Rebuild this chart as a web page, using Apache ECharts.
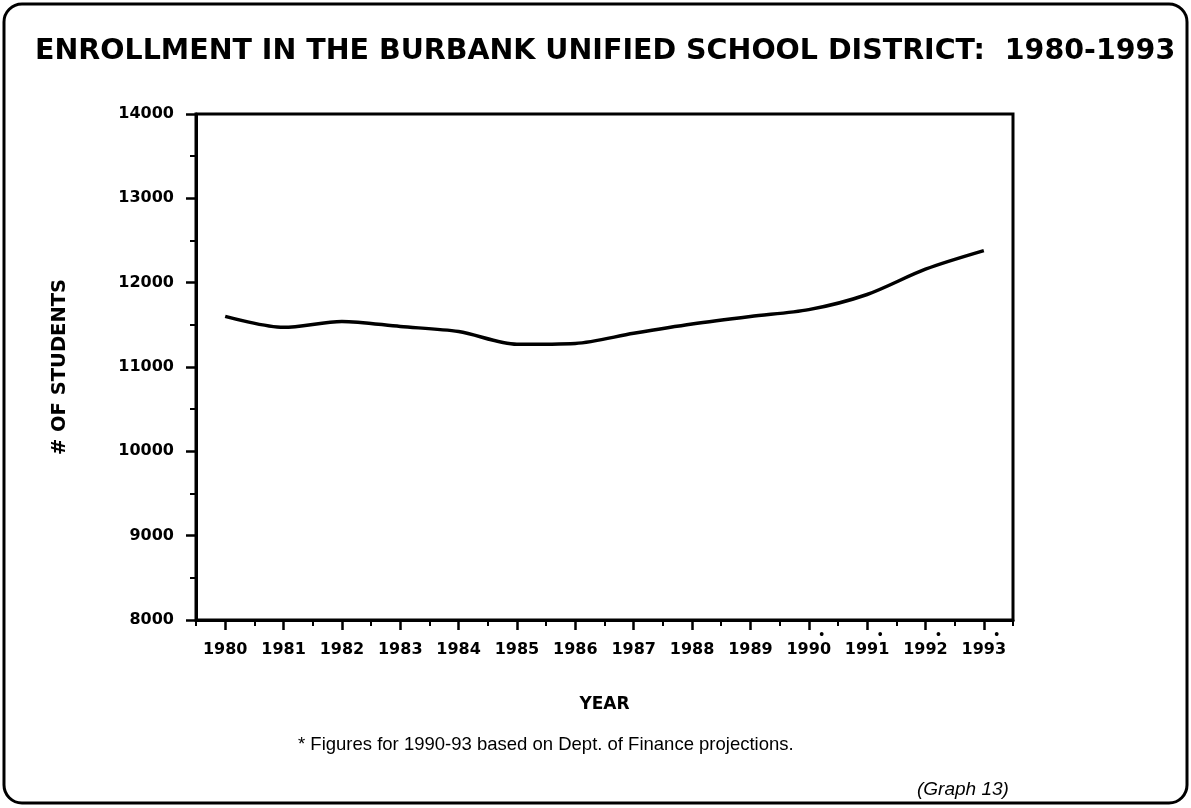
<!DOCTYPE html>
<html>
<head>
<meta charset="utf-8">
<title>Burbank enrollment</title>
<script src="https://cdn.jsdelivr.net/npm/echarts@6/dist/echarts.min.js"></script>
<style>
  html, body { margin: 0; padding: 0; background: #fff; }
  #chart { width: 1191px; height: 808px; }
</style>
</head>
<body>
<div id="chart"></div>
<script>
// 年份（横轴）
var years = ['1980', '1981', '1982', '1983', '1984', '1985', '1986',
             '1987', '1988', '1989', '1990', '1991', '1992', '1993'];
// 学生人数
var students = [11600, 11470, 11540, 11480, 11420, 11270, 11280,
                11400, 11510, 11600, 11680, 11860, 12160, 12380];
// 预测年份（标签上带小圆点）
var projected = ['1990', '1991', '1992', '1993'];
// 纵轴刻度
var yMin = 8000, yMax = 14000, yStep = 1000;

var titleText = 'ENROLLMENT IN THE BURBANK UNIFIED SCHOOL DISTRICT:  1980-1993';
var noteText = '* Figures for 1990-93 based on Dept. of Finance projections.';
var graphText = '(Graph 13)';

var font = '"Liberation Sans", Arial, sans-serif';
var boldFont = '"DejaVu Sans", "Liberation Sans", sans-serif';
// 两个grid位置相同：一个画曲线，一个只画半格小刻度
var plotBox = { left: 196, right: 178, top: 114, bottom: 188 };

var myChart = echarts.init(document.getElementById('chart'));

var option = {
    backgroundColor: '#fff',
    animation: false,
    title: {
        text: titleText,
        left: 30,
        top: 32,
        textStyle: { fontFamily: boldFont, fontSize: 28.5, fontWeight: 'bold', color: '#000' }
    },
    grid: [
        {
            left: plotBox.left, right: plotBox.right, top: plotBox.top, bottom: plotBox.bottom,
            show: true,
            borderColor: '#000',
            borderWidth: 3
        },
        {
            left: plotBox.left, right: plotBox.right, top: plotBox.top, bottom: plotBox.bottom,
            show: false
        }
    ],
    xAxis: [
        {
            type: 'category',
            gridIndex: 0,
            data: years,
            boundaryGap: true,
            axisLine: { lineStyle: { color: '#000', width: 3 } },
            axisTick: { show: true, alignWithLabel: true, length: 10, lineStyle: { color: '#000', width: 2.5 } },
            axisLabel: {
                margin: 10,
                color: '#000',
                formatter: function (v) {
                    return projected.indexOf(v) >= 0 ? '{d|•}\n{y|' + v + '}' : '{e| }\n{y|' + v + '}';
                },
                rich: {
                    d: { fontSize: 14, lineHeight: 10, padding: [0, 0, 0, 26], color: '#000' },
                    e: { fontSize: 14, lineHeight: 10 },
                    y: { fontFamily: boldFont, fontSize: 16, fontWeight: 'bold', color: '#000', lineHeight: 20 }
                }
            },
            name: 'YEAR',
            nameLocation: 'middle',
            nameGap: 76,
            nameTextStyle: { color: '#000', fontFamily: boldFont, fontSize: 17, fontWeight: 'bold' }
        },
        {
            // 半格处的小刻度
            type: 'value',
            gridIndex: 1,
            min: 0,
            max: years.length,
            interval: 1,
            position: 'bottom',
            axisLine: { show: false },
            axisTick: { show: true, length: 6, lineStyle: { color: '#000', width: 2 } },
            axisLabel: { show: false },
            splitLine: { show: false }
        }
    ],
    yAxis: [
        {
            type: 'value',
            gridIndex: 0,
            min: yMin,
            max: yMax,
            interval: yStep,
            splitLine: { show: false },
            axisLine: { show: true, lineStyle: { color: '#000', width: 3 } },
            axisTick: { show: true, length: 10, lineStyle: { color: '#000', width: 2.5 } },
            minorTick: { show: true, splitNumber: 2, length: 6, lineStyle: { color: '#000', width: 2 } },
            axisLabel: {
                margin: 22,
                color: '#000',
                fontFamily: boldFont,
                fontSize: 16,
                fontWeight: 'bold',
                formatter: function (v) { return String(v); }
            },
            name: '# OF STUDENTS',
            nameLocation: 'middle',
            nameGap: 126,
            nameTextStyle: { color: '#000', fontFamily: boldFont, fontSize: 19.5, fontWeight: 'bold' }
        },
        {
            type: 'value',
            gridIndex: 1,
            min: yMin,
            max: yMax,
            show: false
        }
    ],
    series: [
        {
            name: 'Enrollment',
            type: 'line',
            xAxisIndex: 0,
            yAxisIndex: 0,
            data: students,
            smooth: 0.3,
            showSymbol: false,
            lineStyle: { color: '#000', width: 3.5 }
        }
    ],
    graphic: [
        {
            type: 'rect',
            shape: { x: 4, y: 4, width: 1183, height: 799, r: 18 },
            style: { fill: 'none', stroke: '#000', lineWidth: 3 }
        },
        {
            type: 'text',
            left: 298,
            top: 735,
            style: { text: noteText, fill: '#000', font: '18.5px ' + font }
        },
        {
            type: 'text',
            left: 917,
            top: 780,
            style: { text: graphText, fill: '#000', font: 'italic 19px ' + font }
        }
    ]
};
myChart.setOption(option);
</script>
</body>
</html>
